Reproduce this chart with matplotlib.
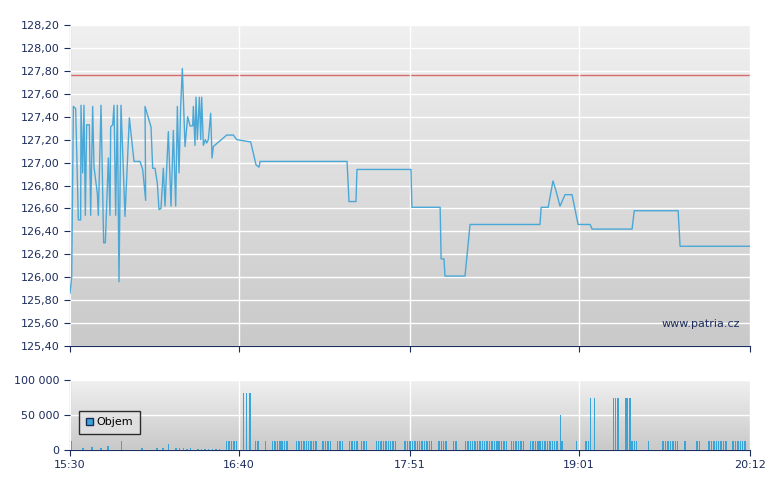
import matplotlib
matplotlib.use("Agg")
import matplotlib.pyplot as plt
import numpy as np
from matplotlib.patches import Patch

# price series: minutes after 15:30, price
price_t = [0.0,0.7,1.4,2.35,3.46,4.42,4.56,5.25,5.8,6.36,6.91,8.02,8.57,9.4,9.95,11.34,11.75,12.86,13.96,14.66,
           15.9,16.59,16.87,17.7,18.25,18.94,19.63,20.32,21.15,22.81,24.61,26.54,29.03,30.14,31.38,31.11,32.49,33.6,
           34.29,35.25,36.22,36.91,37.74,38.71,39.4,40.78,41.89,42.86,43.83,44.52,45.21,45.9,46.59,47.7,48.8,49.77,
           50.88,51.15,51.84,52.26,52.81,53.64,54.2,54.61,55.3,56.13,56.68,57.37,58.34,58.9,59.45,64.98,67.74,69.13,
           74.93,77.15,78.39,78.8,114.9,115.7,118.6,119.0,141.4,141.8,153.5,153.9,155.1,155.5,163.8,164.7,165.9,
           194.9,195.4,198.3,200.3,201.6,203.2,205.3,208.2,210.7,215.7,216.5,233.1,234.0,252.2,253.0,282.0]
price_v = [125.86,126.0,127.49,127.47,126.50,126.50,127.50,126.91,127.50,126.54,127.33,127.33,126.54,127.49,126.96,126.73,126.54,127.50,126.30,126.30,
           127.04,126.54,127.31,127.33,127.50,126.54,127.50,125.96,127.50,126.53,127.39,127.01,127.01,126.94,126.67,127.49,127.39,127.31,
           126.95,126.95,126.82,126.59,126.60,126.95,126.62,127.27,126.62,127.28,126.62,127.49,126.91,127.49,127.82,127.14,127.40,127.32,
           127.32,127.49,127.15,127.57,127.20,127.57,127.20,127.57,127.15,127.20,127.17,127.20,127.43,127.04,127.14,127.24,127.24,127.20,
           127.18,126.98,126.96,127.01,127.01,126.66,126.66,126.94,126.94,126.61,126.61,126.16,126.16,126.01,126.01,126.20,126.46,
           126.46,126.61,126.61,126.84,126.75,126.62,126.72,126.72,126.46,126.46,126.42,126.42,126.58,126.58,126.27,126.27]
ref_price = 127.76

small_t = [65,66,67,68,69,77,78,81,84,85,86,87,88,89,90,94,95,96,97,98,99,100,101,102,105,106,107,108,111,112,113,
           116,117,118,119,121,122,123,127,128,129,130,131,132,133,134,135,139,140,141,142,143,144,145,146,147,148,149,150,
           153,154,155,156,159,160,164,165,166,167,168,169,170,171,172,173,174,175,176,177,178,179,180,181,
           183,184,185,186,187,188,191,192,193,194,195,196,197,198,199,200,201,202,204,210,214,215,233,234,235,240,
           246,247,248,249,250,251,252,255,260,261,265,266,267,268,269,270,271,272,275,276,277,278,279,280]
small_v = 13000
early_t = [0.7,5.3,9.2,12.9,15.7,21.4,29.9,36,38.5,40.9,44,45.5,47,48.5,50,53,54.5,56,57.5,59,60.5,62]
early_v = [13000,2500,4000,2500,6000,13000,3000,3500,3000,8000,2500,2500,2500,2000,2500,2000,2000,2000,2000,2000,2000,2000]
big_t = [72.0,73.3,74.6,203.4,215.8,217.6,225.4,226.3,227.2,230.5,231.3,232.2]
big_v = [82000,82000,82000,50000,75000,75000,75000,75000,75000,75000,75000,75000]

tick_pos = [0,70,141,211,282]
tick_lab = ["15:30","16:40","17:51","19:01","20:12"]
price_ticks = [125.4+0.2*i for i in range(15)]

navy = "#1c2c5c"
line_c = "#4aa8d8"
bar_c = "#3aa4d6"

fig = plt.figure(figsize=(7.8,4.9), dpi=100)
W,H = 780,490
ax = fig.add_axes([70/W, 1-346/H, 680/W, 321/H])
axv = fig.add_axes([70/W, 1-450/H, 680/W, 70/H])

grad = np.linspace(0,1,256).reshape(-1,1)
for a in (ax, axv):
    a.imshow(grad, extent=[0,1,0,1], transform=a.transAxes, aspect="auto",
             cmap=matplotlib.colors.LinearSegmentedColormap.from_list("g",["#f0f0f0","#c9c9c9"]),
             zorder=0)
    for s in ("top","right"):
        a.spines[s].set_visible(False)
    for s in ("left","bottom"):
        a.spines[s].set_color(navy)
    a.tick_params(colors=navy, labelsize=8, length=4, labelcolor=navy)
    a.set_xlim(0,282)
    a.set_xticks(tick_pos)
    a.grid(True, color="white", lw=1, zorder=1)
    a.set_axisbelow(False)

ax.set_ylim(125.4,128.2)
ax.set_yticks(price_ticks)
ax.set_yticklabels([f"{v:.2f}".replace(".",",") for v in price_ticks])
ax.set_xticklabels([])
ax.axhline(ref_price, color="#d86a6a", lw=1, zorder=2)
ax.plot(price_t, price_v, color=line_c, lw=1, zorder=3)
ax.text(0.985, 0.07, "www.patria.cz", transform=ax.transAxes, ha="right", va="center", fontsize=8, color=navy)

axv.set_ylim(0,100000)
axv.set_yticks([0,50000,100000])
axv.set_yticklabels(["0","50 000","100 000"])
axv.set_xticklabels(tick_lab)
for t, v in ((early_t, early_v), (small_t, [small_v]*len(small_t)), (big_t, big_v)):
    axv.bar(t, v, width=0.6, color=bar_c, zorder=3, linewidth=0, antialiased=False)
leg = axv.legend(handles=[Patch(facecolor=bar_c, edgecolor=navy, label="Objem")], loc="upper left",
                 bbox_to_anchor=(0.005, 0.64), frameon=True, fancybox=False, fontsize=8,
                 handlelength=0.7, handleheight=0.7, handletextpad=0.3, borderpad=0.6)
leg.get_frame().set_edgecolor("black")
leg.get_frame().set_facecolor("#e2e2e2")

fig.savefig("out.png", dpi=100)
